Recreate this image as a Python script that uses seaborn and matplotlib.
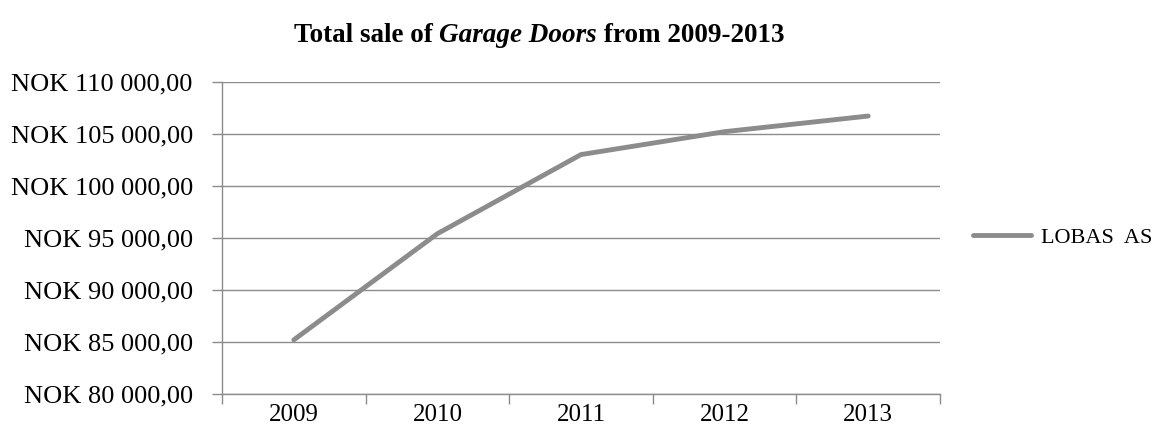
import numpy as np
import matplotlib
matplotlib.use("Agg")
import matplotlib.pyplot as plt
import matplotlib.ticker as mticker
import pandas as pd
import seaborn as sns

sns.set_theme(style="white")
plt.rcParams['font.family'] = ['Liberation Serif', 'DejaVu Serif']
plt.rcParams['text.color'] = 'black'

years = [2009, 2010, 2011, 2012, 2013]
sales = [85200, 95400, 103000, 105200, 106700]
series_name = "LOBAS  AS"
title_parts = [("Total sale of ", "normal"), ("Garage Doors", "italic"), (" from 2009-2013", "normal")]

df = pd.DataFrame({"year": years, "sale": sales})

fig = plt.figure(figsize=(11.63, 4.45), dpi=100)
ax = fig.add_axes([222/1163, 1 - 394/445, (940 - 222)/1163, (394 - 81.7)/445])

gray = "#8c8c8c"
sns.lineplot(data=df, x="year", y="sale", ax=ax, color=gray, linewidth=3.5,
             solid_capstyle="round", label=series_name)

ax.set_ylim(80000, 110000)
ax.set_xlim(years[0] - 0.5, years[-1] + 0.5)
ax.yaxis.set_major_locator(mticker.MultipleLocator(5000))
ax.yaxis.set_major_formatter(mticker.FuncFormatter(
    lambda v, p: "NOK " + f"{int(v):,}".replace(",", " ") + ",00"))
ax.set_xticks(np.arange(years[0] - 0.5, years[-1] + 1, 1.0))
ax.set_xticklabels([])
ax.set_xticks(years, minor=True)
ax.set_xticklabels([str(y) for y in years], minor=True)
ax.tick_params(axis="x", which="minor", bottom=True, length=0, pad=7, labelsize=18, labelcolor="black")
ax.tick_params(axis="x", which="major", bottom=True, length=7, width=1, color=gray, direction="out")
ax.tick_params(axis="y", left=True, length=7, width=1, color=gray, labelsize=19, pad=14,
               direction="out", labelcolor="black")

ax.grid(axis="y", color=gray, linewidth=1)
ax.grid(axis="x", visible=False)
for s in ["top", "right"]:
    ax.spines[s].set_visible(False)
for s in ["left", "bottom"]:
    ax.spines[s].set_color(gray)
    ax.spines[s].set_linewidth(1)
ax.set_xlabel("")
ax.set_ylabel("")

leg = ax.legend(loc="center left", bbox_to_anchor=(1 + 33/718, 0.5), frameon=False,
                fontsize=16, handlelength=2.6, handletextpad=0.45,
                borderpad=0, borderaxespad=0)
for t in leg.get_texts():
    t.set_color("black")

# title with an italic middle part
fig.canvas.draw()
r = fig.canvas.get_renderer()
texts = []
for txt, style in title_parts:
    t = fig.text(0, 1 - 36/445, txt, fontsize=19.5, fontweight="bold", fontstyle=style,
                 va="center", ha="left", color="black")
    texts.append(t)
widths = [t.get_window_extent(r).width for t in texts]
total = sum(widths)
x0 = 539 - total / 2
for t, w in zip(texts, widths):
    t.set_x(x0 / 1163)
    x0 += w

fig.savefig("out.png", dpi=100)
